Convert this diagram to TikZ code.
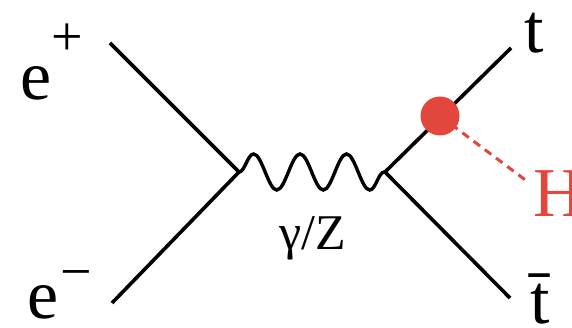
\documentclass[tikz,border=0pt]{standalone}
\usepackage{fontspec}
\setmainfont{Liberation Serif}
\usetikzlibrary{decorations.pathmorphing}
\definecolor{higgsred}{HTML}{E2463C}
\newcommand{\chsup}[2]{\raisebox{#1}{\fontsize{56}{56}\selectfont #2}}

\begin{document}
\begin{tikzpicture}[x=1pt,y=-1pt,
  fermion/.style={line width=3.6pt},
  boson/.style={line width=3.4pt, decorate,
    decoration={snake, segment length=46.5pt, amplitude=18pt}},
  scalar/.style={higgsred, line width=3pt, dash pattern=on 8pt off 6pt},
  lbl/.style={inner sep=0pt, font=\fontsize{70}{84}\selectfont}]
 \useasboundingbox (0,0) rectangle (572,328);

 % vertices and outer ends
  \coordinate (V1) at (239,172);
  \coordinate (V2) at (385,172);
  \coordinate (Ep) at (110,43);
  \coordinate (Em) at (112,303);
  \coordinate (Tq) at (511,48);
  \coordinate (Tb) at (510,298);
  \coordinate (Hb) at (440,116);
  \coordinate (Hend) at (528,182);

 % labels
  \node[lbl, anchor=base west] (ep) at (20,100) {e\chsup{44pt}{+}};
  \node[lbl, anchor=base west] (em) at (27,318) {e\kern2pt\chsup{28pt}{−}};
  \node[lbl, anchor=base west] (t) at (524,53) {t};
  \node[lbl, anchor=base west] (tbar) at (530,323) {\=t};
  \node[lbl, anchor=base west, text=higgsred] (H) at (533,217) {H};
  \node[inner sep=0pt, anchor=base, font=\fontsize{50}{60}\selectfont] (gz) at (313,250) {γ/Z};

 % e+ e- -> gamma/Z -> t tbar
  \draw[fermion] (Ep) -- (V1) -- (Em);
  \draw[boson] (V1) -- (V2);
  \draw[fermion] (Tq) -- (V2) -- (Tb);

 % Higgs radiated off the top
  \draw[scalar] (Hb) -- (Hend);
  \fill[higgsred] (Hb) circle (19.5pt);
\end{tikzpicture}
\end{document}
